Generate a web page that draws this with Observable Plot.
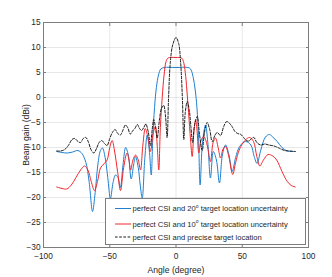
<!DOCTYPE html>
<html><head><meta charset="utf-8">
<script src="https://cdn.jsdelivr.net/npm/d3@7"></script>
<script src="https://cdn.jsdelivr.net/npm/@observablehq/plot@0.6"></script>
<style>
body{margin:0;background:#fff}
#wrap{position:relative;width:332px;height:277px;font-family:"Liberation Sans",Arial,sans-serif}
#legend{position:absolute;left:105px;top:198px}
</style>
</head><body><div id="wrap"></div>
<script>
const xTicks = [-100, -50, 0, 50, 100];
const yTicks = [-30, -25, -20, -15, -10, -5, 0, 5, 10, 15];
const seriesNames = [
  "perfect CSI and 20° target location uncertainty",
  "perfect CSI and 10° target location uncertainty",
  "perfect CSI and precise target location"
];
const seriesColors = ["#1f80d0", "#f0282c", "#1a1a1a"];

// [angle (degree), beam gain (dBi)]
const uncertainty20 = [
[-90,-10.8],[-86,-11],[-82,-11.1],[-78,-10.9],[-74,-10.6],[-71,-11.2],[-68,-13],[-65.5,-17],[-63,-22.8],[-61,-19],[-59,-13.5],[-57,-10.6],[-55.5,-10.1],[-53.5,-12],[-51.5,-16],[-49.5,-20.2],[-47.5,-17],[-45.7,-15.5],[-43.8,-16],[-42,-18],[-40,-13.5],[-38,-10],[-36,-11.5],[-33.8,-16.3],[-32,-13.5],[-30.6,-11.8],[-28.5,-14],[-27,-17.5],[-25.5,-20.1],[-23.5,-12],[-21.7,-7.5],[-20,-11],[-18.7,-15.5],[-17.5,-8],[-16.2,-2],[-14.8,2],[-13.2,4.5],[-11.5,5.7],[-9,6],[0,6],[9,6],[11,5.7],[13,4],[14.5,1.5],[15.8,-2],[17,-8],[18.2,-17.5],[20,-9],[22.3,-5.5],[24,-9],[26,-16.1],[28.2,-10.8],[30.5,-12.5],[32.8,-17.1],[35,-11.5],[37.4,-9.5],[40,-11.5],[42.4,-14.8],[45,-12],[48,-9.8],[52.5,-8.8],[56.5,-9.5],[59,-11.8],[61.2,-13.2],[64,-10.5],[67.5,-7.9],[70.5,-7.4],[73,-7.9],[76.4,-8.8],[80,-10],[84,-10.7],[90,-10.8]
];
const uncertainty10 = [
[-90,-17.9],[-86,-18.2],[-82.5,-18.3],[-79,-17.5],[-75.5,-16],[-72,-14.5],[-69,-13.7],[-66.5,-14.5],[-64,-16.8],[-61.5,-18.6],[-59,-16.5],[-57,-14.1],[-54.5,-13.3],[-52,-12.5],[-50,-10],[-48.2,-8.6],[-46.5,-10.5],[-44,-15],[-41.9,-18.6],[-39.5,-14],[-37,-11.1],[-35.5,-12.5],[-34.2,-14.5],[-32.5,-12.5],[-30.5,-11.5],[-28.5,-12.5],[-26.8,-14.5],[-25,-9.5],[-23.2,-6.2],[-21.2,-8],[-19.3,-10.8],[-17.3,-7.2],[-15.5,-5.8],[-14.2,-9.5],[-13,-14.5],[-11.8,-6],[-10.4,0],[-9,4.5],[-7.5,7.2],[-6,7.9],[0,8],[4.3,7.9],[5.6,7.2],[7,5],[8.2,1.5],[9.5,-3],[11,-8.5],[12.2,-11.8],[13.5,-7],[14.8,-4.5],[16,-7],[17.2,-11.1],[19,-8.5],[21,-7.8],[23.5,-9.5],[26,-12.8],[28,-9],[29.8,-8.1],[31.8,-10],[33.6,-12.1],[35.5,-10.3],[37.4,-9.8],[40,-12],[42.8,-15.4],[45,-13],[48,-10.3],[52,-8.6],[55.5,-8],[58.5,-8.8],[61,-11.8],[63.3,-13.7],[66,-12.5],[69.5,-11.4],[73,-11.7],[76,-12.5],[80,-14.8],[84,-16.8],[87,-17.6],[90,-17.9]
];
const precise = [
[-90,-10.7],[-87,-10.7],[-84,-10.4],[-81,-9.5],[-78.5,-8.4],[-76.5,-8.2],[-74,-8.8],[-72,-9],[-70,-8.2],[-68,-8],[-66,-9],[-64,-10.5],[-62,-11.1],[-60,-10.2],[-58,-9],[-56,-8.6],[-54,-9.2],[-52,-9.6],[-50,-8.2],[-48,-7],[-46,-6.4],[-44,-7.2],[-42,-7.5],[-40,-6.5],[-38.2,-5.5],[-36.5,-6],[-34.5,-7.3],[-32.5,-6.6],[-31,-6.2],[-29.2,-5.4],[-27.5,-6.2],[-26,-6.6],[-24.3,-6],[-22.8,-5.3],[-21,-6.8],[-19.3,-9.6],[-18,-6.5],[-16.8,-4.4],[-15.5,-6],[-14.2,-8.1],[-12.5,-4.5],[-11,-2.2],[-9.3,-1.6],[-8,-3.5],[-6.7,-8],[-5.6,0],[-4.3,7],[-2.5,10.5],[0,12],[2,10.8],[3.5,7],[4.8,0],[5.9,-8.4],[7,-3],[8.5,-0.8],[10,-2.5],[11.3,-6],[12.5,-9],[14,-5.5],[16,-3.8],[17.8,-7.5],[19.8,-10.6],[21.5,-7],[23.5,-5],[25.5,-6.5],[27.3,-8.8],[29.5,-7.5],[31.1,-7],[33.6,-7.6],[36,-5.8],[38.3,-4.8],[40.5,-5.2],[42.5,-5.9],[44.5,-6.8],[46.5,-7.2],[49,-7.4],[51,-8],[53,-8.6],[55,-8.7],[57,-8.2],[58.8,-8],[61,-9],[63.8,-9.5],[67,-9.3],[70,-9.5],[74,-9.7],[77.6,-10.1],[82,-10.6],[86,-10.7],[90,-10.8]
];

const allSeries = [uncertainty20, uncertainty10, precise];
const lineOpts = (i) => ({
  x: d => d[0], y: d => d[1], stroke: seriesColors[i], strokeWidth: 1,
  curve: "catmull-rom", strokeDasharray: i === 2 ? "2.6,1.6" : null
});

const chart = Plot.plot({
  width: 332, height: 277,
  marginLeft: 43, marginRight: 24, marginTop: 22, marginBottom: 30,
  style: {fontFamily: '"Liberation Sans", Arial, sans-serif', fontSize: "8px", color: "#262626", background: "#fff", overflow: "visible"},
  x: {domain: [-100, 100]},
  y: {domain: [-30, 15]},
  marks: [
    Plot.gridX(xTicks, {stroke: "#000", strokeOpacity: 0.09}),
    Plot.gridY(yTicks, {stroke: "#000", strokeOpacity: 0.09}),
    Plot.line(allSeries[0], lineOpts(0)),
    Plot.line(allSeries[1], lineOpts(1)),
    Plot.line(allSeries[2], lineOpts(2)),
    Plot.frame({stroke: "#7d7d7d", strokeWidth: 1}),
    Plot.axisX(xTicks, {anchor: "bottom", tickSize: -3, tickPadding: 9, stroke: "#7d7d7d", fontSize: 8.3, label: null}),
    Plot.axisX({anchor: "bottom", ticks: [], label: "Angle (degree)", labelAnchor: "center", labelArrow: "none", labelOffset: 25, fontSize: 8.6}),
    Plot.axisX(xTicks, {anchor: "top", tickSize: -3, tickFormat: () => "", stroke: "#7d7d7d", label: null}),
    Plot.axisY(yTicks, {anchor: "left", tickSize: -3, tickPadding: 6, stroke: "#7d7d7d", fontSize: 8.3, label: null}),
    Plot.axisY({anchor: "left", ticks: [], label: "Beam gain (dBi)", labelAnchor: "center", labelArrow: "none", labelOffset: 21, fontSize: 8.6}),
    Plot.axisY(yTicks, {anchor: "right", tickSize: -3, tickFormat: () => "", stroke: "#7d7d7d", label: null})
  ]
});
const wrap = document.getElementById("wrap");
wrap.appendChild(chart);

// legend overlay (inside the plot area, lower right)
const ns = "http://www.w3.org/2000/svg";
const lg = document.createElementNS(ns, "svg");
lg.setAttribute("id", "legend");
lg.setAttribute("width", 201);
lg.setAttribute("height", 47);
const rect = document.createElementNS(ns, "rect");
rect.setAttribute("x", 0.5); rect.setAttribute("y", 0.5);
rect.setAttribute("width", 200); rect.setAttribute("height", 46);
rect.setAttribute("fill", "#fff"); rect.setAttribute("stroke", "#7d7d7d");
lg.appendChild(rect);
const rowY = [10.5, 26, 39];
seriesNames.forEach((name, i) => {
  const ln = document.createElementNS(ns, "line");
  ln.setAttribute("x1", 10); ln.setAttribute("x2", 26);
  ln.setAttribute("y1", rowY[i]); ln.setAttribute("y2", rowY[i]);
  ln.setAttribute("stroke", seriesColors[i]); ln.setAttribute("stroke-width", 1);
  if (i === 2) ln.setAttribute("stroke-dasharray", "2.6,1.6");
  lg.appendChild(ln);
  const t = document.createElementNS(ns, "text");
  t.setAttribute("x", 27.5); t.setAttribute("y", rowY[i] + 2.8);
  t.setAttribute("font-size", "7.6px");
  t.setAttribute("fill", "#262626");
  t.setAttribute("font-family", '"Liberation Sans", Arial, sans-serif');
  const m = name.match(/^(.*?)(\d+)°(.*)$/);
  if (m) {
    const a = document.createElementNS(ns, "tspan"); a.textContent = m[1] + m[2]; t.appendChild(a);
    const s = document.createElementNS(ns, "tspan"); s.textContent = "o"; s.setAttribute("dy", -3.5); s.setAttribute("font-size", "5px"); t.appendChild(s);
    const b = document.createElementNS(ns, "tspan"); b.textContent = m[3]; b.setAttribute("dy", 3.5); t.appendChild(b);
  } else t.textContent = name;
  lg.appendChild(t);
});
wrap.appendChild(lg);
</script>
</body></html>
